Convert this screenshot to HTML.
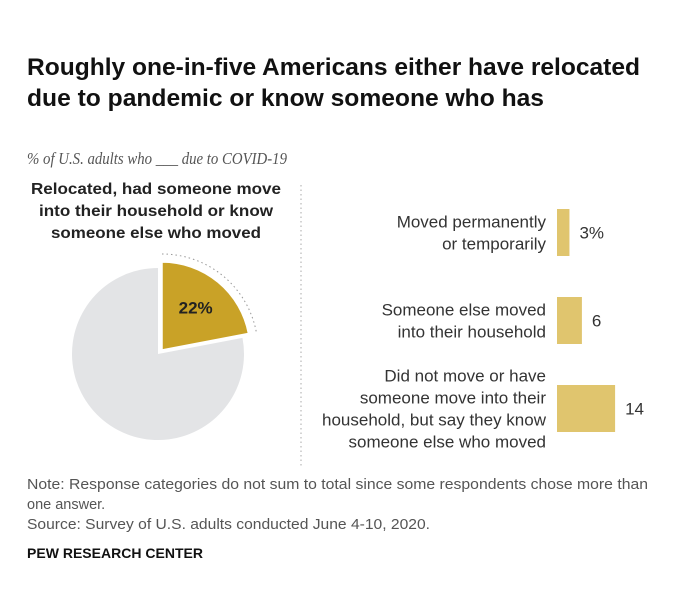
<!DOCTYPE html>
<html><head><meta charset="utf-8"><style>
body{margin:0;background:#fff;width:679px;height:584px;overflow:hidden}
svg text{font-family:"Liberation Sans",sans-serif}
</style></head><body>
<svg width="679" height="584">
<g font-weight="bold" font-size="24" fill="#111">
<text x="27" y="75" textLength="613" lengthAdjust="spacingAndGlyphs" style="font-family:'Liberation Sans Narrow','Liberation Sans',sans-serif">Roughly one-in-five Americans either have relocated</text>
<text x="27" y="106" textLength="517" lengthAdjust="spacingAndGlyphs" style="font-family:'Liberation Sans Narrow','Liberation Sans',sans-serif">due to pandemic or know someone who has</text>
</g>
<text x="27" y="164" font-size="17" font-style="italic" fill="#555" style="font-family:'Liberation Serif',serif" textLength="260" lengthAdjust="spacingAndGlyphs">% of U.S. adults who ___ due to COVID-19</text>
<g font-weight="bold" font-size="16" fill="#222" text-anchor="middle">
<text x="156" y="194" textLength="250" lengthAdjust="spacingAndGlyphs">Relocated, had someone move</text>
<text x="156" y="216" textLength="234" lengthAdjust="spacingAndGlyphs">into their household or know</text>
<text x="156" y="238" textLength="210" lengthAdjust="spacingAndGlyphs">someone else who moved</text>
</g>
<line x1="301" y1="185" x2="301" y2="468" stroke="#aaa" stroke-dasharray="1.5,3"/>
<g id="pie"></g>
<g id="bars"></g>
<g font-size="14.5" fill="#555">
<text x="27" y="489" textLength="621" lengthAdjust="spacingAndGlyphs">Note: Response categories do not sum to total since some respondents chose more than</text>
<text x="27" y="509">one answer.</text>
<text x="27" y="529" textLength="403" lengthAdjust="spacingAndGlyphs">Source: Survey of U.S. adults conducted June 4-10, 2020.</text>
</g>
<text x="27" y="558" font-size="14" font-weight="bold" fill="#111" textLength="176" lengthAdjust="spacingAndGlyphs">PEW RESEARCH CENTER</text>
</svg>
<script>
const pieValue = 22;
const pieLabel = "22%";
const barLabels = [["Moved permanently","or temporarily"],["Someone else moved","into their household"],["Did not move or have","someone move into their","household, but say they know","someone else who moved"]];
const barValues = [3, 6, 14];
const barValueLabels = ["3%","6","14"];

const NS="http://www.w3.org/2000/svg";
function mk(t,a,p){const e=document.createElementNS(NS,t);for(const k in a)e.setAttribute(k,a[k]);p.appendChild(e);return e;}
const pie=document.getElementById('pie');
const cx=158,cy=354,r=86, ang=pieValue/100*2*Math.PI;
function pt(x,y,rr,a){return [x+rr*Math.sin(a),y-rr*Math.cos(a)];}
let [ax,ay]=pt(cx,cy,r,ang),[bx,by]=pt(cx,cy,r,2*Math.PI-0.0001);
let g=mk('path',{d:`M${cx},${cy}L${ax},${ay}A${r},${r} 0 ${ang<Math.PI?1:0} 1 ${bx},${by}Z`,fill:'#e3e4e6'},pie);


const ox=cx+4, oy=cy-4, r2=88;
let [sx,sy]=pt(ox,oy,r2,0),[ex,ey]=pt(ox,oy,r2,ang);
let s=mk('path',{d:`M${ox},${oy}L${sx},${sy}A${r2},${r2} 0 ${ang>Math.PI?1:0} 1 ${ex},${ey}Z`,fill:'#c9a227',stroke:'#fff','stroke-width':1.5},pie);


const r3=96;
let [dx1,dy1]=pt(ox,oy,r3,0),[dx2,dy2]=pt(ox,oy,r3,ang);
let d=mk('path',{d:`M${dx1},${dy1}A${r3},${r3} 0 0 1 ${dx2},${dy2}`,fill:'none',stroke:'#999','stroke-dasharray':'1.5,3'},pie);


let [lx,ly]=pt(ox,oy,r2*0.6,ang/2);
let t=mk('text',{x:lx,y:ly+4,'text-anchor':'middle','font-size':17,'font-weight':'bold',fill:'#222'},pie);
t.textContent=pieLabel;



const bars=document.getElementById('bars');
const x0=557, scale=4.15, bh=47, tops=[209,297,385];
barValues.forEach((v,i)=>{
  const w=v*scale, y=tops[i];
  const b=mk('rect',{x:x0,y:y,width:w,height:bh,fill:'#e0c56e'},bars);
  
  
  const vt=mk('text',{x:x0+w+10,y:y+bh/2+6,'font-size':17,fill:'#333'},bars);
  vt.textContent=barValueLabels[i];
  
  
  const lines=barLabels[i], lh=22, start=y+bh/2-(lines.length-1)*lh/2+6;
  lines.forEach((ln,j)=>{
    const lt=mk('text',{x:546,y:start+j*lh,'font-size':17,fill:'#333','text-anchor':'end'},bars);
    lt.textContent=ln;
    
    
  });
});
</script>
</body></html>
